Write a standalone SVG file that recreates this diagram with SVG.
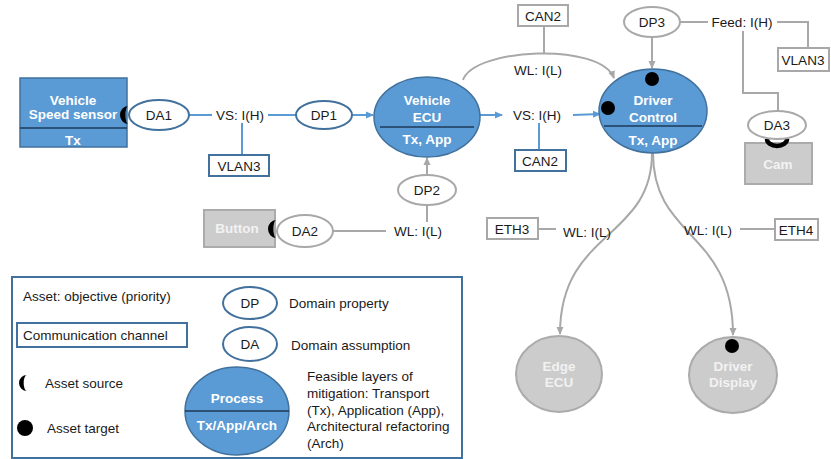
<svg xmlns="http://www.w3.org/2000/svg" width="831" height="459" viewBox="0 0 831 459">
<defs>
<marker id="ab" markerWidth="8" markerHeight="8" refX="7" refY="4" orient="auto" markerUnits="userSpaceOnUse"><path d="M0,0.5 L8,4 L0,7.5 Z" fill="#5b9bd5"/></marker>
<marker id="ag" markerWidth="8" markerHeight="8" refX="7" refY="4" orient="auto" markerUnits="userSpaceOnUse"><path d="M0,0.5 L8,4 L0,7.5 Z" fill="#a8a8a8"/></marker>
<style>
text{font-family:"Liberation Sans",Arial,sans-serif;font-size:13.5px;fill:#1a1a1a}
.c{text-anchor:middle}
.w{fill:#ffffff;font-weight:bold;text-anchor:middle}
.lt{fill:#f2f2f2}
.proc{fill:#5b9bd5;stroke:#41719c;stroke-width:1.5}
.div{stroke:#1d3a57;stroke-width:1.5}
.bo{fill:#fff;stroke:#41719c;stroke-width:2}
.go{fill:#fff;stroke:#a8a8a8;stroke-width:2}
.gn{fill:#cccccc;stroke:#ababab;stroke-width:2}
.bl{fill:none;stroke:#5b9bd5;stroke-width:2}
.gl{fill:none;stroke:#a8a8a8;stroke-width:2}
.k{fill:#000}
</style>
</defs>

<g id="connectors">
<line class="bl" x1="189" y1="115" x2="212" y2="115"/>
<line class="bl" x1="268" y1="115" x2="296" y2="115"/>
<line class="bl" x1="242" y1="123" x2="242" y2="155"/>
<line class="bl" x1="352" y1="115" x2="373" y2="115" marker-end="url(#ab)"/>
<line class="bl" x1="479" y1="115" x2="502" y2="115" marker-end="url(#ab)"/>
<line class="bl" x1="573" y1="115" x2="600" y2="114" marker-end="url(#ab)"/>
<line class="bl" x1="539" y1="123" x2="539" y2="150"/>
<path class="gl" d="M463 80 C474 48 600 42 614 78" marker-end="url(#ag)"/>
<line class="gl" x1="544" y1="26" x2="544" y2="54"/>
<line class="gl" x1="652" y1="37" x2="652" y2="68" marker-end="url(#ag)"/>
<line class="gl" x1="680" y1="22" x2="708" y2="22"/>
<polyline class="gl" points="777,22 808,22 808,48"/>
<polyline class="gl" points="743,31 743,93 778,93 778,112"/>
<line class="gl" x1="333" y1="231" x2="386" y2="231"/>
<line class="gl" x1="427" y1="222" x2="427" y2="205"/>
<line class="gl" x1="427" y1="175" x2="427" y2="158" marker-end="url(#ag)"/>
<line class="gl" x1="538" y1="229" x2="556" y2="229"/>
<line class="gl" x1="740" y1="229" x2="775" y2="229"/>
<path class="gl" d="M652 153 C652 240 560 230 560 334" marker-end="url(#ag)"/>
<path class="gl" d="M653 153 C653 240 733 230 733 335" marker-end="url(#ag)"/>
</g>

<g id="labels">
<text class="c" x="240" y="120">VS: I(H)</text>
<text class="c" x="537" y="120">VS: I(H)</text>
<text class="c" x="538" y="75">WL: I(L)</text>
<text class="c" x="742" y="27">Feed: I(H)</text>
<text class="c" x="418" y="236">WL: I(L)</text>
<text class="c" x="587" y="237">WL: I(L)</text>
<text class="c" x="708" y="235">WL: I(L)</text>
</g>

<g id="vehicle-speed-sensor">
<rect class="proc" x="20" y="78" width="107" height="69"/>
<line class="div" x1="20" y1="128" x2="127" y2="128"/>
<text class="w" x="73" y="105">Vehicle</text>
<text class="w" x="73" y="119">Speed sensor</text>
<text class="w" x="73" y="145">Tx</text>
<path class="k" d="M128 106 A8 9 0 0 0 128 124 A2 7 0 0 1 128 106 Z"/>
</g>

<g id="da1"><ellipse class="bo" cx="159" cy="115" rx="30" ry="15"/><text class="c" x="159" y="120">DA1</text></g>
<g id="vlan3-left"><rect class="bo" x="209" y="155" width="60" height="21"/><text class="c" x="239" y="171">VLAN3</text></g>
<g id="dp1"><ellipse class="bo" cx="324" cy="115" rx="28" ry="14"/><text class="c" x="324" y="120">DP1</text></g>

<g id="vehicle-ecu">
<ellipse class="proc" cx="427" cy="117" rx="53" ry="40"/>
<line class="div" x1="380" y1="127" x2="474" y2="127"/>
<text class="w" x="427" y="105">Vehicle</text>
<text class="w" x="427" y="122">ECU</text>
<text class="w" x="427" y="144">Tx, App</text>
</g>

<g id="can2-top"><rect class="go" x="518" y="5" width="50" height="21"/><text class="c" x="543" y="21">CAN2</text></g>
<g id="can2-bottom"><rect class="bo" x="515" y="150" width="51" height="21"/><text class="c" x="540" y="166">CAN2</text></g>

<g id="driver-control">
<ellipse class="proc" cx="653" cy="111" rx="54" ry="42"/>
<line class="div" x1="604" y1="126" x2="702" y2="126"/>
<text class="w" x="653" y="105">Driver</text>
<text class="w" x="653" y="122">Control</text>
<text class="w" x="653" y="145">Tx, App</text>
<circle class="k" cx="652" cy="79" r="7"/>
<circle class="k" cx="608" cy="108" r="7"/>
</g>

<g id="dp3"><ellipse class="go" cx="652" cy="22" rx="28" ry="15"/><text class="c" x="652" y="27">DP3</text></g>
<g id="vlan3-right"><rect class="go" x="778" y="48" width="51" height="23"/><text class="c" x="803" y="65">VLAN3</text></g>
<g id="cam">
<rect class="gn" x="745" y="143" width="67" height="41"/>
<text class="w lt" x="778" y="169">Cam</text>
<path d="M767 139 A10 7 0 0 0 787 139" fill="none" stroke="#000" stroke-width="4.5"/>
</g>
<g id="da3"><ellipse class="go" cx="777" cy="125" rx="29" ry="14"/><text class="c" x="777" y="130">DA3</text></g>

<g id="button">
<rect class="gn" x="204" y="210" width="71" height="37"/>
<text class="w lt" x="237" y="233">Button</text>
<path class="k" d="M276 220 A8 9 0 0 0 276 238 A2 7 0 0 1 276 220 Z"/>
</g>
<g id="da2"><ellipse class="go" cx="305" cy="231" rx="28" ry="16"/><text class="c" x="305" y="236">DA2</text></g>
<g id="dp2"><ellipse class="go" cx="427" cy="190" rx="29" ry="15"/><text class="c" x="427" y="195">DP2</text></g>
<g id="eth3"><rect class="go" x="487" y="218" width="51" height="21"/><text class="c" x="512" y="234">ETH3</text></g>
<g id="eth4"><rect class="go" x="775" y="219" width="43" height="21"/><text class="c" x="796" y="235">ETH4</text></g>

<g id="edge-ecu">
<ellipse class="gn" cx="559" cy="374" rx="43" ry="38"/>
<text class="w lt" x="559" y="371">Edge</text>
<text class="w lt" x="559" y="387">ECU</text>
</g>
<g id="driver-display">
<ellipse class="gn" cx="733" cy="375" rx="44" ry="38"/>
<text class="w lt" x="733" y="371">Driver</text>
<text class="w lt" x="733" y="387">Display</text>
<circle class="k" cx="732" cy="346" r="7"/>
</g>

<g id="legend">
<rect x="12" y="277" width="450" height="181" fill="#fff" stroke="#41719c" stroke-width="2"/>
<text x="23" y="301">Asset: objective (priority)</text>
<rect class="bo" x="17" y="323" width="170" height="24"/>
<text x="23" y="340">Communication channel</text>
<path class="k" d="M27 375 A8 8 0 0 0 27 391 A2.5 6 0 0 1 27 375 Z"/>
<text x="45" y="388">Asset source</text>
<circle class="k" cx="25" cy="428" r="8"/>
<text x="47" y="433">Asset target</text>
<ellipse class="bo" cx="250" cy="303" rx="27" ry="16"/>
<text class="c" x="250" y="308">DP</text>
<text x="289" y="308">Domain property</text>
<ellipse class="bo" cx="250" cy="344" rx="27" ry="17"/>
<text class="c" x="250" y="349">DA</text>
<text x="291" y="350">Domain assumption</text>
<ellipse class="proc" cx="237" cy="411" rx="52" ry="44"/>
<line class="div" x1="185" y1="411" x2="289" y2="411"/>
<text class="w" x="237" y="403">Process</text>
<text class="w" x="237" y="430">Tx/App/Arch</text>
<text x="307" y="381">Feasible layers of</text>
<text x="307" y="398">mitigation: Transport</text>
<text x="307" y="415">(Tx), Application (App),</text>
<text x="307" y="431">Architectural refactoring</text>
<text x="307" y="448">(Arch)</text>
</g>
</svg>
